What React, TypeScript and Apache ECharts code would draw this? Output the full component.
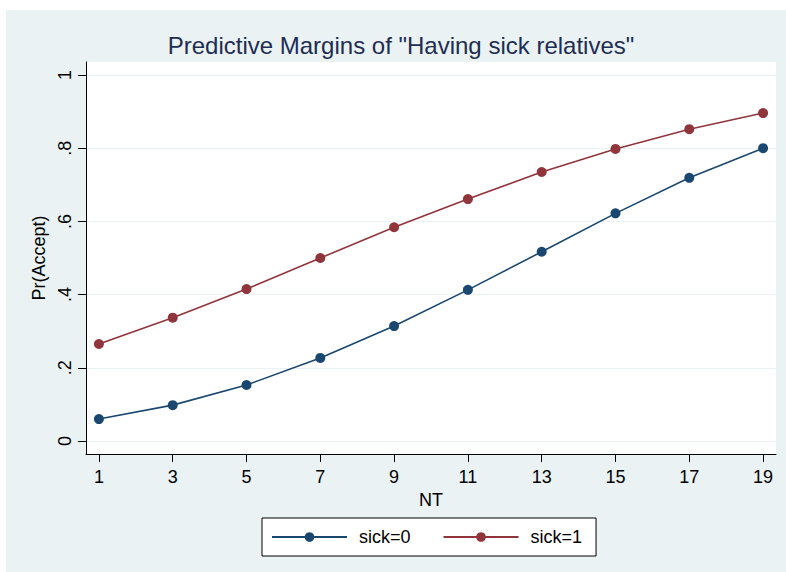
import React, { useEffect, useRef } from "react";
import * as echarts from "echarts";

const ntValues = [1, 3, 5, 7, 9, 11, 13, 15, 17, 19];
const sick0 = [0.06, 0.098, 0.153, 0.227, 0.314, 0.413, 0.517, 0.622, 0.719, 0.8];
const sick1 = [0.265, 0.337, 0.415, 0.5, 0.584, 0.661, 0.735, 0.798, 0.852, 0.896];
const xTicks = [1, 3, 5, 7, 9, 11, 13, 15, 17, 19];
const yTicks = [0, 0.2, 0.4, 0.6, 0.8, 1];
const yTickLabels = ["0", ".2", ".4", ".6", ".8", "1"];
const seriesNames = ["sick=0", "sick=1"];
const titleText = 'Predictive Margins of "Having sick relatives"';

export default function App() {
  const ref = useRef<HTMLDivElement>(null);
  useEffect(() => {
    if (!ref.current) return;
    const chart = echarts.init(ref.current, null, { renderer: "svg" });
    const font = "Liberation Sans, Arial, Helvetica, sans-serif";
    chart.setOption({
      animation: false,
      backgroundColor: "#eaf2f3",
      textStyle: { fontFamily: font },
      graphic: [
        { type: "rect", shape: { x: 0, y: 0, width: 786, height: 10 }, style: { fill: "#ffffff" }, z: 1 },
        { type: "rect", shape: { x: 0, y: 0, width: 6, height: 572 }, style: { fill: "#ffffff" }, z: 1 },
        {
          type: "text",
          x: 401,
          y: 45,
          z: 5,
          style: {
            text: titleText,
            fill: "#1e2d53",
            font: `24px ${font}`,
            textAlign: "center",
            textVerticalAlign: "middle",
          },
        },
      ],
      grid: {
        left: 86,
        top: 62,
        right: 10,
        bottom: 118,
        show: true,
        backgroundColor: "#ffffff",
        borderWidth: 0,
      },
      xAxis: {
        type: "value",
        min: 0.65,
        max: 19.35,
        name: "NT",
        nameLocation: "middle",
        nameGap: 34,
        nameTextStyle: { fontSize: 18, color: "#000", fontFamily: font },
        axisLine: { show: true, onZero: false, lineStyle: { color: "#000", width: 1 } },
        axisTick: { show: true, length: 8, customValues: xTicks, lineStyle: { color: "#000" } },
        axisLabel: { customValues: xTicks, fontSize: 18, color: "#000", margin: 14, fontFamily: font },
        splitLine: { show: false },
      },
      yAxis: {
        type: "value",
        min: -0.0355,
        max: 1.0355,
        name: "Pr(Accept)",
        nameLocation: "middle",
        nameGap: 34,
        nameRotate: 90,
        nameTextStyle: { fontSize: 18, color: "#000", fontFamily: font },
        axisLine: { show: true, onZero: false, lineStyle: { color: "#000", width: 1 } },
        axisTick: { show: true, length: 8, customValues: yTicks, lineStyle: { color: "#000" } },
        axisLabel: {
          customValues: yTicks,
          rotate: 90,
          fontSize: 18,
          color: "#000",
          margin: 12,
          fontFamily: font,
          formatter: (v: number) => {
            const i = yTicks.findIndex((t) => Math.abs(t - v) < 1e-6);
            return i >= 0 ? yTickLabels[i] : "";
          },
        },
        splitLine: { show: true, lineStyle: { color: "#eaf2f3", width: 1 } },
      },
      legend: {
        left: 262,
        top: 518,
        orient: "horizontal",
        backgroundColor: "#ffffff",
        borderColor: "#000",
        borderWidth: 1,
        padding: [10, 14, 10, 9],
        itemWidth: 75,
        itemHeight: 12,
        itemGap: 32,
        textStyle: { fontSize: 18, color: "#000", fontFamily: font, padding: [0, 0, 0, 7] },
        data: seriesNames,
      },
      series: [
        {
          name: seriesNames[0],
          type: "line",
          data: ntValues.map((x, i) => [x, sick0[i]]),
          symbol: "circle",
          symbolSize: 10,
          lineStyle: { color: "#1a476f", width: 1.6 },
          itemStyle: { color: "#1a476f" },
        },
        {
          name: seriesNames[1],
          type: "line",
          data: ntValues.map((x, i) => [x, sick1[i]]),
          symbol: "circle",
          symbolSize: 10,
          lineStyle: { color: "#90353b", width: 1.6 },
          itemStyle: { color: "#90353b" },
        },
      ],
    });
    return () => chart.dispose();
  }, []);
  return (
    <div
      ref={ref}
      style={{ position: "fixed", left: 0, top: 0, width: 786, height: 572 }}
    />
  );
}
